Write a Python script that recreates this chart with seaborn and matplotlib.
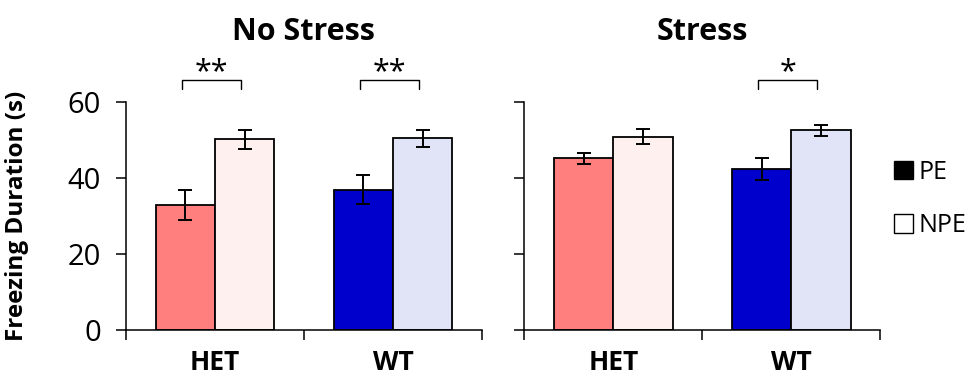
import matplotlib
matplotlib.use("Agg")
import matplotlib.pyplot as plt
from matplotlib.patches import Patch
import pandas as pd
import seaborn as sns

# values (means and SEM)
genotypes = ["HET", "WT"]
conditions = ["PE", "NPE"]
panels = ["No Stress", "Stress"]

pe_mean = {"No Stress": [33.0, 37.0], "Stress": [45.2, 42.5]}
npe_mean = {"No Stress": [50.3, 50.5], "Stress": [50.9, 52.6]}
pe_sem = {"No Stress": [3.9, 3.9], "Stress": [1.4, 2.9]}
npe_sem = {"No Stress": [2.5, 2.3], "Stress": [2.0, 1.4]}

# bar colours per genotype: (PE, NPE)
bar_colors = {"HET": ["#FF7F7F", "#FFF0F0"], "WT": ["#0000CC", "#E1E3F7"]}

# significance: (panel, genotype, stars)
sig = [("No Stress", "HET", "**"), ("No Stress", "WT", "**"), ("Stress", "WT", "*")]

sns.set_style("white")
plt.rcParams["font.family"] = ["Open Sans", "DejaVu Sans"]
plt.rcParams["text.color"] = "black"
plt.rcParams["axes.labelcolor"] = "black"
plt.rcParams["xtick.color"] = "black"
plt.rcParams["ytick.color"] = "black"

fig = plt.figure(figsize=(9.67, 3.79), dpi=100)
axes = [fig.add_axes([0.1303, 0.1293, 0.368, 0.6007]),
        fig.add_axes([0.5422, 0.1293, 0.368, 0.6007])]

for ax, panel in zip(axes, panels):
    rows = []
    for i, g in enumerate(genotypes):
        rows.append({"genotype": g, "cond": "PE", "val": pe_mean[panel][i], "err": pe_sem[panel][i]})
        rows.append({"genotype": g, "cond": "NPE", "val": npe_mean[panel][i], "err": npe_sem[panel][i]})
    df = pd.DataFrame(rows)

    sns.barplot(data=df, x="genotype", y="val", hue="cond", order=genotypes,
                hue_order=conditions, errorbar=None, width=0.667, ax=ax,
                edgecolor="black", linewidth=1.3, legend=False)

    # recolour bars and add error bars
    for h, cond in enumerate(conditions):
        bars = ax.containers[h]
        for gi, bar in enumerate(bars):
            g = genotypes[gi]
            bar.set_facecolor(bar_colors[g][h])
            sub = df[(df["genotype"] == g) & (df["cond"] == cond)].iloc[0]
            xc = bar.get_x() + bar.get_width() / 2
            ax.errorbar(xc, sub["val"], yerr=sub["err"], fmt="none", ecolor="black",
                        elinewidth=1.4, capsize=5, capthick=1.4, zorder=5)

    # significance brackets
    for p, g, stars in sig:
        if p != panel:
            continue
        gi = genotypes.index(g)
        b1 = ax.containers[0][gi]
        b2 = ax.containers[1][gi]
        x1 = b1.get_x() + b1.get_width() / 2 - 0.02
        x2 = b2.get_x() + b2.get_width() / 2 - 0.02
        ax.plot([x1, x1, x2, x2], [63.4, 65.8, 65.8, 63.4], color="black",
                lw=1.0, clip_on=False)
        ax.text((x1 + x2) / 2, 64.0, stars, ha="center", va="bottom",
                fontsize=22, clip_on=False)

    ax.set_xlim(-0.5, 1.5)
    ax.set_ylim(0, 60)
    ax.set_yticks([0, 20, 40, 60])
    ax.set_xticks([-0.5, 0.5, 1.5])
    ax.set_xticklabels([])
    ax.set_xticks([0, 1], minor=True)
    ax.set_xticklabels(genotypes, minor=True, fontsize=19, fontweight="bold")
    ax.tick_params(axis="x", which="major", direction="out", length=7, width=1.1,
                   bottom=True, color="black")
    ax.tick_params(axis="x", which="minor", length=0, pad=14)
    ax.tick_params(axis="y", direction="out", length=7, width=1.1, left=True,
                   labelsize=21, pad=11, color="black")
    ax.set_xlabel("")
    ax.set_ylabel("")
    for s in ["top", "right"]:
        ax.spines[s].set_visible(False)
    for s in ["left", "bottom"]:
        ax.spines[s].set_color("black")
        ax.spines[s].set_linewidth(1.1)
    ax.set_title(panel, fontsize=22, fontweight="bold", pad=45)

axes[0].set_ylabel("Freezing Duration (s)", fontsize=17.5, fontweight="bold")
axes[0].yaxis.set_label_coords(-0.272, 0.5)
axes[1].set_yticklabels([])

handles = [Patch(facecolor="black", edgecolor="black"),
           Patch(facecolor="white", edgecolor="black")]
fig.legend(handles, conditions, loc="center left", bbox_to_anchor=(0.914, 0.475),
           frameon=False, fontsize=18, handlelength=0.75, handleheight=0.75,
           handletextpad=0.25, labelspacing=1.15, borderaxespad=0)

fig.savefig("out.png", dpi=100)
